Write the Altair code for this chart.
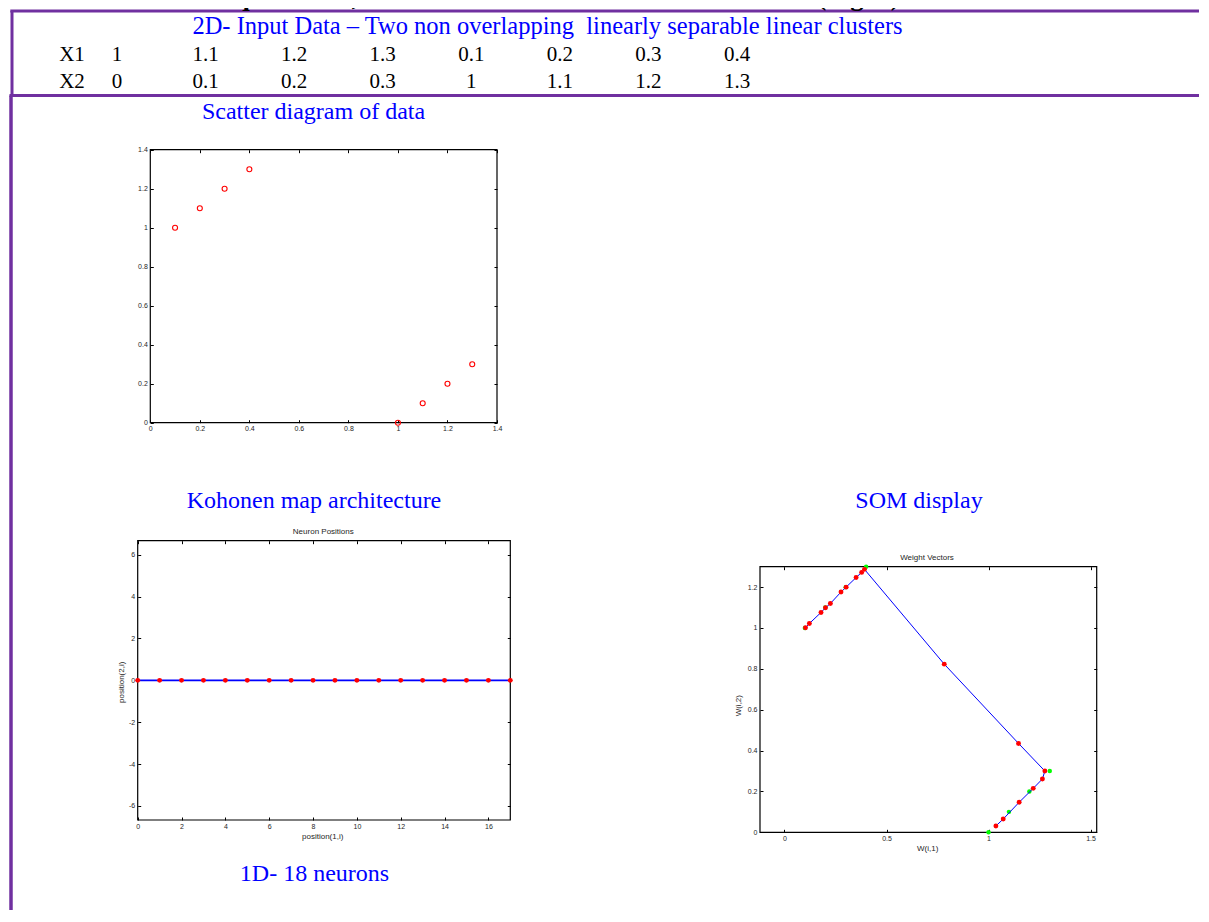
import altair as alt
import pandas as pd

W, H = 1190, 902
SERIF = "Liberation Serif"
SANS = "Liberation Sans"
BLUE = "#0000FF"
PURPLE = "#7030A0"
RED = "#FF0000"
GREEN = "#00FF00"
AXIS_TXT = "#262626"

# ---------------- data ----------------
row_names = ["X1", "X2"]
x1_values = [1, 1.1, 1.2, 1.3, 0.1, 0.2, 0.3, 0.4]
x2_values = [0, 0.1, 0.2, 0.3, 1, 1.1, 1.2, 1.3]

neuron_pos1 = list(range(18))
neuron_pos2 = [0] * 18

som_w1 = [0.103, 0.122, 0.179, 0.201, 0.225, 0.277, 0.302, 0.351, 0.378, 0.392,
          0.783, 1.147, 1.276, 1.264, 1.219, 1.150, 1.072, 1.036]
som_w2 = [1.001, 1.022, 1.076, 1.099, 1.120, 1.176, 1.200, 1.247, 1.272, 1.287,
          0.823, 0.435, 0.300, 0.261, 0.215, 0.147, 0.065, 0.031]

scatter_ticks = [0, 0.2, 0.4, 0.6, 0.8, 1, 1.2, 1.4]
kohonen_xticks = [0, 2, 4, 6, 8, 10, 12, 14, 16]
kohonen_yticks = [-6, -4, -2, 0, 2, 4, 6]
som_xticks = [0, 0.5, 1, 1.5]
som_yticks = [0, 0.2, 0.4, 0.6, 0.8, 1, 1.2]

scatter_xlim = [0, 1.4]
scatter_ylim = [0, 1.4]
kohonen_xlim = [0, 17]
kohonen_ylim = [-6.67, 6.67]
som_xlim = [-0.12, 1.53]
som_ylim = [0, 1.3]

# ---------------- layout (pixels inside the chart) ----------------
scatter_box = (141.3, 488.0, 414.7, 141.7)   # left, right, bottom, top
kohonen_box = (128.7, 501.3, 812.0, 532.7)
som_box = (751.0, 1087.7, 824.3, 558.7)
TICK = 3
MINUS_FIX = "replace(datum.label, '\u2212', '-')"


def scales(xlim, ylim, box):
    l, r, b, t = box
    return (alt.Scale(domain=xlim, range=[l, r], nice=False, zero=False),
            alt.Scale(domain=ylim, range=[b, t], nice=False, zero=False))


def main_axes(box, xt, yt):
    l, r, b, t = box
    common = dict(domain=False, grid=False, tickSize=TICK, tickColor="black", tickWidth=1,
                  labelFont=SANS, labelFontSize=7, labelColor=AXIS_TXT, format="~g",
                  labelExpr=MINUS_FIX, labelFlush=False, labelOverlap=False, title=None)
    ax = alt.Axis(orient="bottom", values=xt, offset=b - TICK - H, labelPadding=2, **common)
    ay = alt.Axis(orient="left", values=yt, offset=-(l + TICK), labelPadding=3, **common)
    return ax, ay


def box_axes(box, xt, yt):
    l, r, b, t = box
    common = dict(domain=False, grid=False, tickSize=TICK, tickColor="black", tickWidth=1,
                  labels=False, title=None)
    ax = alt.Axis(orient="top", values=xt, offset=-(t + TICK), **common)
    ay = alt.Axis(orient="right", values=yt, offset=(r - TICK) - W, **common)
    return ax, ay


def frame_layer(xlim, ylim, box, xt, yt):
    df = pd.DataFrame({"x0": [xlim[0]], "x1": [xlim[1]], "y0": [ylim[0]], "y1": [ylim[1]]})
    xs, ys = scales(xlim, ylim, box)
    ax, ay = box_axes(box, xt, yt)
    return alt.Chart(df).mark_rect(fill="transparent", stroke="black", strokeWidth=1.2).encode(
        x=alt.X("x0:Q", scale=xs, axis=ax), x2="x1:Q",
        y=alt.Y("y0:Q", scale=ys, axis=ay), y2="y1:Q")


def text_layer(txt, x, y, size, color, font=SERIF, align="center", baseline="alphabetic",
               angle=0, weight="normal", clip=False):
    df = pd.DataFrame({"t": [txt]})
    return alt.Chart(df).mark_text(align=align, baseline=baseline, font=font, fontSize=size,
                                   color=color, angle=angle, fontWeight=weight, clip=clip).encode(
        x=alt.value(x), y=alt.value(y), text="t:N")


def rule_layer(x, x2, y, y2, width):
    df = pd.DataFrame({"a": [0]})
    return alt.Chart(df).mark_rule(color=PURPLE, strokeWidth=width).encode(
        x=alt.value(x), x2=alt.value(x2), y=alt.value(y), y2=alt.value(y2))


layers = []

# ---- document frame lines ----
layers += [
    rule_layer(1.3, W, 3, 3, 3),
    rule_layer(3, 3, 3, 88, 3),
    rule_layer(0.5, W, 87.5, 87.5, 3),
    rule_layer(2, 2, 87.5, H, 3.5),
]

# ---- header text ----
layers.append(text_layer("The neurons are equidistant, but not interconnected with each other (Fig. 2).",
                         19, -3, 27, "black", align="left", weight="bold", clip=True))
layers.append(text_layer("2D- Input Data \u2013 Two non overlapping\u00a0 linearly separable linear clusters",
                         538.5, 25.5, 24.5, BLUE))

table_df = pd.DataFrame({"row": [0] * len(x1_values) + [1] * len(x2_values),
                         "col": list(range(len(x1_values))) * 2,
                         "v": x1_values + x2_values})
row_scale = alt.Scale(domain=[0, 1], range=[53, 80])
layers.append(alt.Chart(table_df).mark_text(font=SERIF, fontSize=21, color="black",
                                            baseline="alphabetic", align="center").encode(
    x=alt.X("col:Q", scale=alt.Scale(domain=[0, 7], range=[108, 728]), axis=None),
    y=alt.Y("row:Q", scale=row_scale, axis=None),
    text=alt.Text("v:Q", format="~g")))
rows_df = pd.DataFrame({"name": row_names, "row": [0, 1]})
layers.append(alt.Chart(rows_df).mark_text(font=SERIF, fontSize=21, color="black",
                                           baseline="alphabetic", align="center").encode(
    x=alt.value(63), y=alt.Y("row:Q", scale=row_scale, axis=None), text="name:N"))

# ---- captions ----
layers += [
    text_layer("Scatter diagram of data", 304.5, 110.5, 24, BLUE),
    text_layer("Kohonen map architecture", 305, 499.5, 24, BLUE),
    text_layer("SOM display", 910, 500, 24, BLUE),
    text_layer("1D- 18 neurons", 305.5, 872.5, 24, BLUE),
]

# ---- scatter diagram ----
scatter_df = pd.DataFrame({"X1": x1_values, "X2": x2_values})
sx, sy = scales(scatter_xlim, scatter_ylim, scatter_box)
ax, ay = main_axes(scatter_box, scatter_ticks, scatter_ticks)
layers.append(frame_layer(scatter_xlim, scatter_ylim, scatter_box, scatter_ticks, scatter_ticks))
layers.append(alt.Chart(scatter_df).mark_point(shape="circle", filled=False, color=RED, size=25,
                                               strokeWidth=1.1, opacity=1).encode(
    x=alt.X("X1:Q", scale=sx, axis=ax), y=alt.Y("X2:Q", scale=sy, axis=ay)))

# ---- Kohonen map (neuron positions) ----
koh_df = pd.DataFrame({"p1": neuron_pos1, "p2": neuron_pos2})
kx, ky = scales(kohonen_xlim, kohonen_ylim, kohonen_box)
ax, ay = main_axes(kohonen_box, kohonen_xticks, kohonen_yticks)
layers.append(frame_layer(kohonen_xlim, kohonen_ylim, kohonen_box, kohonen_xticks, kohonen_yticks))
layers.append(alt.Chart(koh_df).mark_line(color=BLUE, strokeWidth=1.6).encode(
    x=alt.X("p1:Q", scale=kx, axis=ax), y=alt.Y("p2:Q", scale=ky, axis=ay)))
layers.append(alt.Chart(koh_df).mark_circle(color=RED, size=24, opacity=1).encode(
    x=alt.X("p1:Q", scale=kx, axis=None), y=alt.Y("p2:Q", scale=ky, axis=None)))
layers += [
    text_layer("Neuron Positions", 314.3, 524.3, 8, AXIS_TXT, font=SANS, baseline="middle"),
    text_layer("position(1,i)", 313.7, 829.3, 8, AXIS_TXT, font=SANS, baseline="middle"),
    text_layer("position(2,i)", 112.7, 674.3, 8, AXIS_TXT, font=SANS, baseline="middle", angle=270),
]

# ---- SOM display (weight vectors) ----
som_df = pd.DataFrame({"i": list(range(1, len(som_w1) + 1)), "w1": som_w1, "w2": som_w2})
wx, wy = scales(som_xlim, som_ylim, som_box)
ax, ay = main_axes(som_box, som_xticks, som_yticks)
layers.append(frame_layer(som_xlim, som_ylim, som_box, som_xticks, som_yticks))
layers.append(alt.Chart(scatter_df).mark_circle(color=GREEN, size=20, opacity=1).encode(
    x=alt.X("X1:Q", scale=wx, axis=None), y=alt.Y("X2:Q", scale=wy, axis=None)))
layers.append(alt.Chart(som_df).mark_line(color=BLUE, strokeWidth=1).encode(
    x=alt.X("w1:Q", scale=wx, axis=ax), y=alt.Y("w2:Q", scale=wy, axis=ay), order="i:Q"))
layers.append(alt.Chart(som_df).mark_circle(color=RED, size=24, opacity=1).encode(
    x=alt.X("w1:Q", scale=wx, axis=None), y=alt.Y("w2:Q", scale=wy, axis=None)))
layers += [
    text_layer("Weight Vectors", 918, 550.3, 8, AXIS_TXT, font=SANS, baseline="middle"),
    text_layer("W(i,1)", 918.7, 841.3, 8, AXIS_TXT, font=SANS, baseline="middle"),
    text_layer("W(i,2)", 730.3, 697.7, 8, AXIS_TXT, font=SANS, baseline="middle", angle=270),
]

chart = (
    alt.layer(*layers)
    .resolve_scale(x="independent", y="independent")
    .resolve_axis(x="independent", y="independent")
    .properties(width=W, height=H, padding=0)
    .configure_view(strokeWidth=0)
)

chart.save("out.html", embed_options={"renderer": "svg", "actions": False})
